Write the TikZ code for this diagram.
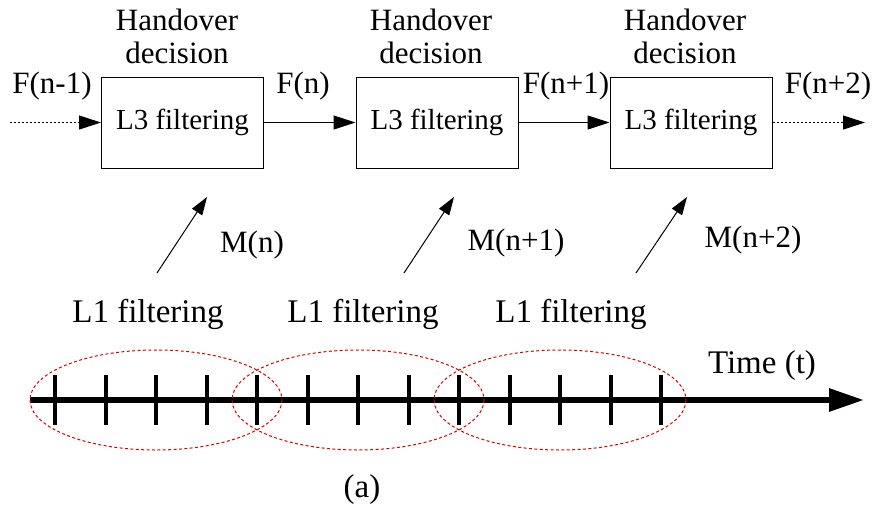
\documentclass[tikz,border=0pt]{standalone}
\usepackage{fontspec}
\setmainfont{Liberation Serif}
\usetikzlibrary{arrows.meta}
\begin{document}
\begin{tikzpicture}[x=0.5pt,y=-0.5pt,
  every node/.style={font=\fontsize{15.5}{17}\selectfont, inner sep=0pt},
  l3box/.style={draw, line width=0.5pt, minimum width=81pt, minimum height=45.5pt, font=\fontsize{14.5}{17}\selectfont},
  flow/.style={line width=0.5pt, -{Triangle[length=11pt,width=7pt]}},
  dotflow/.style={flow, dash pattern=on 1pt off 1pt},
  meas/.style={line width=0.5pt, -{Triangle[length=9pt,width=6pt]}},
  win/.style={draw=red!85!black, line width=0.5pt, dash pattern=on 1.5pt off 1.2pt},
  tick/.style={line width=2pt},
  lbl/.style={anchor=base},
  hd/.style={align=center, font=\fontsize{15.5}{16.5}\selectfont}
]
\useasboundingbox (0,0) rectangle (874,510);

% L3 boxes
\node[l3box] (b1) at (182.5,122.5) {L3 filtering};
\node[l3box] (b2) at (437,122.5) {L3 filtering};
\node[l3box] (b3) at (691,122.5) {L3 filtering};

% Handover decision labels
\node[hd] (h1) at (177,36) {Handover\\decision};
\node[hd] (h2) at (431,36) {Handover\\decision};
\node[hd] (h3) at (685,36) {Handover\\decision};

% F labels
\node[lbl] (f0) at (52,93) {F(n-1)};
\node[lbl] (f1) at (303,93) {F(n)};
\node[lbl] (f2) at (566,93) {F(n+1)};
\node[lbl] (f3) at (828,93) {F(n+2)};

% connectors
\coordinate (in) at (10,122.5);
\coordinate (out) at (865,122.5);
\draw[dotflow] (in) -- (b1.west);
\draw[flow] (b1.east) -- (b2.west);
\draw[flow] (b2.east) -- (b3.west);
\draw[dotflow] (b3.east) -- (out);

% measurement arrows
\coordinate (m1s) at (157,273); \coordinate (m1e) at (207,197);
\coordinate (m2s) at (404,273); \coordinate (m2e) at (454,197);
\coordinate (m3s) at (636,273); \coordinate (m3e) at (687,197);
\draw[meas] (m1s) -- (m1e);
\draw[meas] (m2s) -- (m2e);
\draw[meas] (m3s) -- (m3e);
\node (mn1) at (252,245) {M(n)};
\node (mn2) at (516,243) {M(n+1)};
\node (mn3) at (753,240) {M(n+2)};

% L1 filtering labels
\node[font=\fontsize{16.5}{18}\selectfont] (l1a) at (148,314) {L1 filtering};
\node[font=\fontsize{16.5}{18}\selectfont] (l1b) at (363,314) {L1 filtering};
\node[font=\fontsize{16.5}{18}\selectfont] (l1c) at (571,314) {L1 filtering};

% timeline
\coordinate (t0) at (30,400);
\coordinate (t1) at (864,400);
\draw[line width=3pt, -{Triangle[length=17.5pt,width=11pt]}] (t0) -- (t1);
\foreach \i in {0,...,12} {
  \draw[tick] ({55+50.5*\i},375) -- ({55+50.5*\i},425);
}
\node[font=\fontsize{16.5}{18}\selectfont] (time) at (762,366) {Time (t)};

% windows
\draw[win] (156,400) ellipse [x radius=126, y radius=50];
\draw[win] (358,400) ellipse [x radius=126, y radius=50];
\draw[win] (560,400) ellipse [x radius=126, y radius=50];

\node[font=\fontsize{16.5}{18}\selectfont] (cap) at (362,490) {(a)};
\end{tikzpicture}
\end{document}
